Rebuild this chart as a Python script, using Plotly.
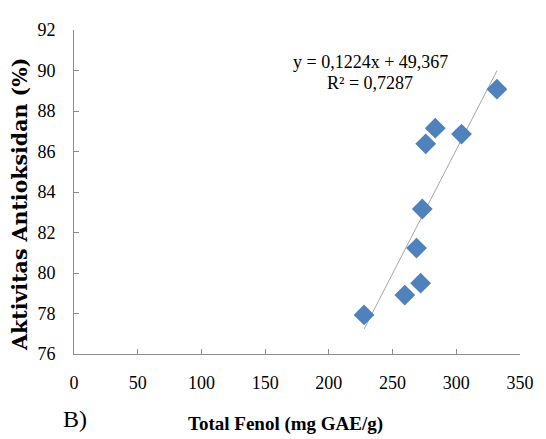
import plotly.graph_objects as go

total_fenol = [227.6, 259.6, 272.0, 268.8, 273.3, 276.0, 283.5, 304.1, 331.9]
aktivitas = [77.93, 78.91, 79.50, 81.23, 83.16, 86.38, 87.15, 86.86, 89.08]
slope = 0.1224
intercept = 49.367
eq_text = "y = 0,1224x + 49,367"
r2_text = "R² = 0,7287"
x_ticks = [0, 50, 100, 150, 200, 250, 300, 350]
y_ticks = [76, 78, 80, 82, 84, 86, 88, 90, 92]

x_line = [min(total_fenol), max(total_fenol)]
y_line = [slope * v + intercept for v in x_line]

fig = go.Figure()
fig.add_trace(go.Scatter(x=x_line, y=y_line, mode="lines",
                         line=dict(color="#a6a6a6", width=1), showlegend=False, hoverinfo="skip"))
fig.add_trace(go.Scatter(x=total_fenol, y=aktivitas, mode="markers",
                         marker=dict(symbol="diamond", size=16, color="#4F81BD"),
                         showlegend=False))

serif = "Liberation Serif, Times New Roman, serif"
OFF = 8  # page body margin
W, H = 546 - OFF, 439 - OFF
# plot area in reference (window) pixels
L_ref, R_ref, T_ref, B_ref = 73.5, 529.5, 22.7, 354.3
l, r, t, b = L_ref - OFF, 546 - R_ref, T_ref - OFF, 439 - B_ref
pw, ph = R_ref - L_ref, B_ref - T_ref

def px(xp):
    return (xp - L_ref) / pw

def py(yp):
    return (B_ref - yp) / ph

fig.update_layout(
    width=W, height=H, autosize=False,
    margin=dict(l=l, r=r, t=t, b=b),
    paper_bgcolor="white", plot_bgcolor="white",
    font=dict(family=serif, size=18, color="black"),
    xaxis=dict(range=[0, 350], tickvals=x_ticks, showgrid=False, zeroline=False,
               showline=True, linecolor="#8c8c8c", linewidth=1,
               ticks="inside", ticklen=5, tickcolor="#8c8c8c",
               tickfont=dict(family=serif, size=18), ticklabelstandoff=12),
    yaxis=dict(range=[76, 92], tickvals=y_ticks, showgrid=False, zeroline=False,
               showline=True, linecolor="#8c8c8c", linewidth=1,
               ticks="inside", ticklen=5, tickcolor="#8c8c8c",
               tickfont=dict(family=serif, size=18), ticklabelstandoff=14),
    annotations=[
        dict(text=eq_text, xref="paper", yref="paper", x=px(376.5), y=py(55),
             showarrow=False, xanchor="center", yanchor="middle",
             font=dict(family=serif, size=18)),
        dict(text=r2_text, xref="paper", yref="paper", x=px(376), y=py(77),
             showarrow=False, xanchor="center", yanchor="middle",
             font=dict(family=serif, size=18)),
        dict(text="<b>Aktivitas Antioksidan (%)</b>", xref="paper", yref="paper",
             x=px(18), y=py(201), textangle=-90, showarrow=False,
             xanchor="center", yanchor="middle",
             font=dict(family="DejaVu Serif, serif", size=20.5)),
        dict(text="<b>Total Fenol (mg GAE/g)</b>", xref="paper", yref="paper",
             x=px(290), y=py(426), showarrow=False, xanchor="center", yanchor="middle",
             font=dict(family=serif, size=19)),
        dict(text="B)", xref="paper", yref="paper",
             x=px(75), y=py(421), showarrow=False, xanchor="center", yanchor="middle",
             font=dict(family=serif, size=24)),
    ],
)

fig.write_html("out.html")
